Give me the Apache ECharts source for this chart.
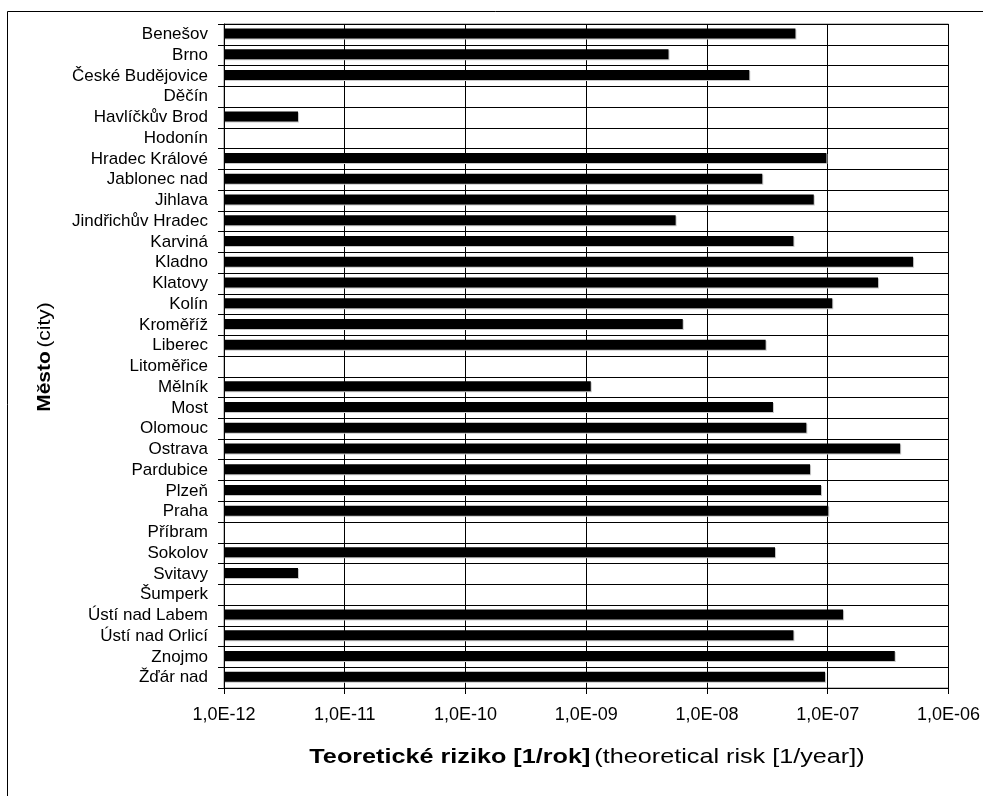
<!DOCTYPE html>
<html>
<head>
<meta charset="utf-8">
<script src="https://cdn.jsdelivr.net/npm/echarts@6/dist/echarts.min.js"></script>
<style>
  html, body { margin: 0; padding: 0; background: #fff; }
  #chart { width: 983px; height: 796px; }
</style>
</head>
<body>
<div id="chart"></div>
<script>
// Cities, top to bottom
const cities = [
  'Benešov', 'Brno', 'České Budějovice', 'Děčín', 'Havlíčkův Brod', 'Hodonín',
  'Hradec Králové', 'Jablonec nad', 'Jihlava', 'Jindřichův Hradec', 'Karviná',
  'Kladno', 'Klatovy', 'Kolín', 'Kroměříž', 'Liberec', 'Litoměřice', 'Mělník',
  'Most', 'Olomouc', 'Ostrava', 'Pardubice', 'Plzeň', 'Praha', 'Příbram',
  'Sokolov', 'Svitavy', 'Šumperk', 'Ústí nad Labem', 'Ústí nad Orlicí',
  'Znojmo', 'Žďár nad'
];

// Theoretical risk [1/year]; null = no value for that city
const risk = [
  5.4e-8, 4.8e-9, 2.24e-8, null, 4.1e-12, null,
  9.75e-8, 2.87e-8, 7.66e-8, 5.5e-9, 5.2e-8,
  5.09e-7, 2.61e-7, 1.09e-7, 6.3e-9, 3.06e-8, null, 1.09e-9,
  3.52e-8, 6.65e-8, 3.98e-7, 7.14e-8, 8.8e-8, 1.01e-7, null,
  3.66e-8, 4.1e-12, null, 1.34e-7, 5.2e-8,
  3.59e-7, 9.5e-8
];

// Axis range (decades)
const riskMin = 1e-12;
const riskMax = 1e-6;

const FONT = '"Liberation Sans", Arial, sans-serif';

// "1,0E-09" style tick labels
function sciLabel(v) {
  const exp = Math.round(Math.log10(v));
  const mant = v / Math.pow(10, exp);
  const e = String(Math.abs(exp)).padStart(2, '0');
  return mant.toFixed(1).replace('.', ',') + 'E' + (exp < 0 ? '-' : '+') + e;
}

// bars start at the left end of the log axis
const barData = [];
risk.forEach((v, i) => { if (v != null) barData.push([v, i]); });

function renderBar(params, api) {
  const cat = api.value(1);
  const end = api.coord([api.value(0), cat]);
  const start = api.coord([riskMin, cat]);
  const h = 10;
  const y = end[1] - h / 2 - 1;
  const w = end[0] - start[0];
  return {
    type: 'group',
    children: [
      { type: 'rect', shape: { x: start[0] + 1, y: y + 1, width: w, height: h },
        style: { fill: '#c8c8c8' } },
      { type: 'rect', shape: { x: start[0], y: y, width: w, height: h },
        style: { fill: '#000' } }
    ]
  };
}

const chart = echarts.init(document.getElementById('chart'), null, { renderer: 'canvas' });

chart.setOption({
  animation: false,
  backgroundColor: '#fff',
  textStyle: { fontFamily: FONT },
  grid: {
    left: 224, right: 34, top: 24, bottom: 108,
    show: true, borderColor: '#808080', borderWidth: 1, backgroundColor: '#fff'
  },
  xAxis: {
    type: 'log',
    logBase: 10,
    min: riskMin,
    max: riskMax,
    interval: 1,
    axisLine: { show: true, lineStyle: { color: '#000', width: 1 } },
    axisTick: { show: true, length: 6, inside: false, lineStyle: { color: '#000' } },
    minorTick: { show: false },
    axisLabel: {
      fontSize: 18, color: '#000', margin: 18, fontFamily: FONT,
      formatter: sciLabel
    },
    splitLine: { show: true, lineStyle: { color: '#000', width: 1 } }
  },
  yAxis: {
    type: 'category',
    data: cities,
    inverse: true,
    axisLine: { show: true, lineStyle: { color: '#000', width: 1 } },
    axisTick: { show: true, length: 6, inside: false, alignWithLabel: false, lineStyle: { color: '#000' } },
    axisLabel: { fontSize: 17, color: '#000', margin: 16, fontFamily: FONT, interval: 0 },
    splitLine: { show: true, interval: 0, lineStyle: { color: '#000', width: 1 } }
  },
  series: [{
    type: 'custom',
    renderItem: renderBar,
    encode: { x: 0, y: 1 },
    data: barData,
    clip: true
  }],
  graphic: [
    {
      // outer chart frame
      type: 'rect',
      z: 100,
      silent: true,
      shape: { x: 7.5, y: 11.5, width: 1000, height: 800 },
      style: { fill: null, stroke: '#000', lineWidth: 1 }
    },
    {
      type: 'text',
      x: 45, y: 357,
      rotation: Math.PI / 2,
      scaleX: 1.1,
      style: {
        text: '{b|Město} {n|(city)}',
        align: 'center',
        verticalAlign: 'middle',
        rich: {
          b: { fontSize: 19, fontWeight: 'bold', fontFamily: FONT, fill: '#000' },
          n: { fontSize: 19, fontFamily: FONT, fill: '#000' }
        }
      }
    },
    {
      type: 'text',
      x: 587, y: 757,
      scaleX: 1.2,
      style: {
        text: '{b|Teoretické riziko [1/rok]} {n|(theoretical risk [1/year])}',
        align: 'center',
        verticalAlign: 'middle',
        rich: {
          b: { fontSize: 21, fontWeight: 'bold', fontFamily: FONT, fill: '#000' },
          n: { fontSize: 21, fontFamily: FONT, fill: '#000' }
        }
      }
    }
  ]
});
</script>
</body>
</html>
